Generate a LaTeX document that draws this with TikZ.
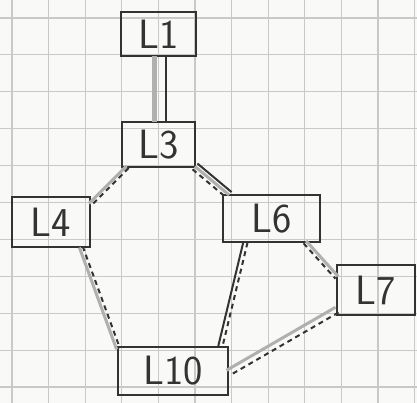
\documentclass[tikz,border=0pt]{standalone}
\usetikzlibrary{calc}
\definecolor{ink}{HTML}{333333}
\definecolor{pencil}{HTML}{B0B0B0}
\definecolor{gridc}{HTML}{C9C9C9}
\definecolor{paper}{HTML}{F9F9F7}
\tikzset{
  lbox/.style={draw=ink, line width=2pt, rectangle, inner sep=0pt, outer sep=0pt,
    text=ink, font=\fontsize{41}{41}\selectfont\sffamily},
  graypen/.style={draw=pencil, line width=3pt},
  inkpen/.style={draw=ink, line width=2pt},
  dashpen/.style={draw=ink, line width=2pt, dash pattern=on 5pt off 4pt},
  gridline/.style={draw=gridc, line width=1.1pt},
}
\newcommand\offline[4]{%
  \draw[#4] ($(#1)!#3!90:(#2)$) -- ($(#2)!#3!-90:(#1)$);}
\begin{document}
\begin{tikzpicture}[x=1pt,y=-1pt]
\fill[paper] (0,0) rectangle (417,403);
\useasboundingbox (0,0) rectangle (417,403);
\foreach \i in {0,...,11} \draw[gridline] ({12+36.6*\i},0) -- ({12+36.6*\i},403);
\foreach \j in {0,...,10} \draw[gridline] (0,{18+36.9*\j}) -- (417,{18+36.9*\j});

\node[lbox, minimum width=75pt, minimum height=44pt] (L1) at (158.5,34) {L1};
\node[lbox, minimum width=73pt, minimum height=45pt] (L3) at (158.5,144.5) {L3};
\node[lbox, minimum width=78pt, minimum height=50pt] (L4) at (51,222) {L4};
\node[lbox, minimum width=97pt, minimum height=47pt] (L6) at (271.5,218.5) {L6};
\node[lbox, minimum width=78pt, minimum height=50pt] (L7) at (376,290) {L7};
\node[lbox, minimum width=110pt, minimum height=48pt] (L10) at (173,371) {L10};

% L1 -- L3
\offline{L1.south}{L3.north}{-4pt}{graypen, line width=5pt}
\offline{L1.south}{L3.north}{7.5pt}{inkpen}
% L3 -- L4
\offline{L3.216.4}{L4.24.8}{-1.5pt}{graypen}
\offline{L3.216.4}{L4.24.8}{1.5pt}{dashpen}
% L3 -- L6
\offline{L3.-31.5}{L6.151.8}{0pt}{graypen}
\offline{L3.-31.5}{L6.151.8}{3.8pt}{inkpen}
\offline{L3.-31.5}{L6.151.8}{-3.8pt}{dashpen}
% L4 -- L10
\offline{L4.-40.8}{L10.158.7}{-1.5pt}{graypen}
\offline{L4.-40.8}{L10.158.7}{2pt}{dashpen}
% L6 -- L10
\offline{L6.222.7}{L10.27.6}{-2pt}{inkpen}
\offline{L6.222.7}{L10.27.6}{2.2pt}{dashpen}
% L6 -- L7
\offline{L6.-35}{L7.162}{1.5pt}{graypen}
\offline{L6.-35}{L7.162}{-2pt}{dashpen}
% L7 -- L10
\offline{L7.207.6}{L10.-2}{-3pt}{graypen}
\offline{L7.207.6}{L10.-2}{3pt}{dashpen}
\end{tikzpicture}
\end{document}
